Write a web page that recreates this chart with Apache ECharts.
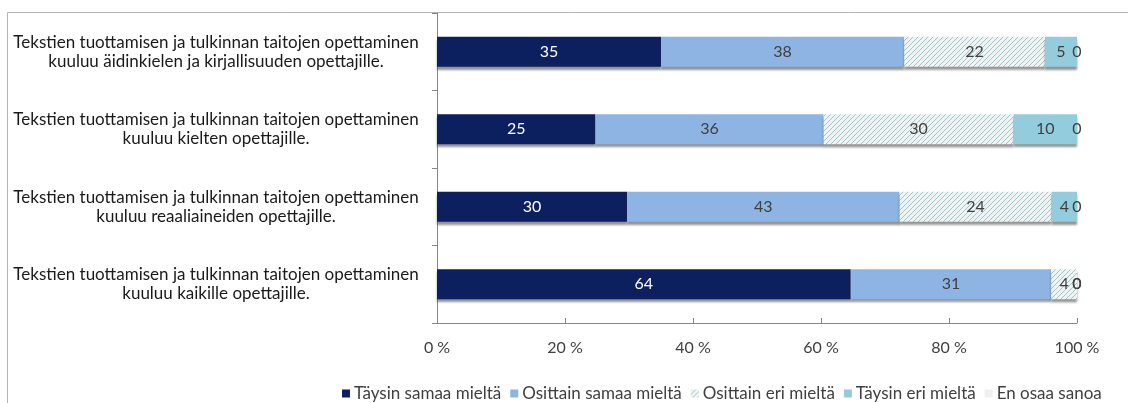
<!DOCTYPE html>
<html>
<head>
<meta charset="utf-8">
<script src="https://cdn.jsdelivr.net/npm/echarts@6/dist/echarts.min.js"></script>
<style>
  html, body { margin: 0; padding: 0; background: #ffffff; }
  #chart { width: 1128px; height: 403px; }
</style>
</head>
<body>
<div id="chart"></div>
<script>
// Statements, listed top to bottom
const categories = [
  'Tekstien tuottamisen ja tulkinnan taitojen opettaminen\nkuuluu äidinkielen ja kirjallisuuden opettajille.',
  'Tekstien tuottamisen ja tulkinnan taitojen opettaminen\nkuuluu kielten opettajille.',
  'Tekstien tuottamisen ja tulkinnan taitojen opettaminen\nkuuluu reaaliaineiden opettajille.',
  'Tekstien tuottamisen ja tulkinnan taitojen opettaminen\nkuuluu kaikille opettajille.'
];

// Answer shares (%) per statement
const taysinSamaa   = [35, 25, 30, 64];
const osittainSamaa = [38, 36, 43, 31];
const osittainEri   = [22, 30, 24, 4];
const taysinEri     = [5, 10, 4, 0];
const enOsaa        = [0, 0, 0, 0];

const seriesNames = ['Täysin samaa mieltä', 'Osittain samaa mieltä', 'Osittain eri mieltä', 'Täysin eri mieltä', 'En osaa sanoa'];
const xTickLabels = ['0 %', '20 %', '40 %', '60 %', '80 %', '100 %'];

const FONT = 'Lato, "Open Sans", sans-serif';

// diagonal hatch fill
function hatch() {
  const c = document.createElement('canvas');
  c.width = 5; c.height = 5;
  const g = c.getContext('2d');
  g.fillStyle = '#eef3f4';
  g.fillRect(0, 0, 5, 5);
  g.strokeStyle = '#a8c2ca';
  g.lineWidth = 1;
  g.beginPath();
  g.moveTo(-1, 6); g.lineTo(6, -1);
  g.moveTo(-1, 1); g.lineTo(1, -1);
  g.moveTo(4, 6); g.lineTo(6, 4);
  g.stroke();
  return c;
}

const rawSets = [taysinSamaa, osittainSamaa, osittainEri, taysinEri, enOsaa];
const rowTotals = categories.map((_, i) => rawSets.reduce((s, a) => s + a[i], 0));

const fills = ['#0c1f5f', '#8db4e2', { image: hatch(), repeat: 'repeat' }, '#93cddd', '#f0f0f0'];
const labelColors = ['#ffffff', '#404040', '#404040', '#404040', '#404040'];

const series = rawSets.map((arr, si) => ({
  name: seriesNames[si],
  type: 'bar',
  stack: 'all',
  barWidth: 30,
  // 100 % stacked: each segment is its share of the row total
  data: arr.map((v, i) => v / rowTotals[i] * 100),
  itemStyle: {
    color: fills[si],
    shadowColor: 'rgba(60,60,60,0.55)',
    shadowOffsetY: 3,
    shadowBlur: 2
  },
  label: {
    show: true,
    position: 'inside',
    color: labelColors[si],
    fontFamily: FONT,
    fontSize: 16,
    formatter: p => String(arr[p.dataIndex])
  },
  emphasis: { disabled: true }
}));

const chart = echarts.init(document.getElementById('chart'), null, { renderer: 'canvas' });
chart.setOption({
  animation: false,
  backgroundColor: '#ffffff',
  textStyle: { fontFamily: FONT },
  grid: { left: 437, right: 51, top: 13, bottom: 80 },
  xAxis: {
    type: 'value',
    min: 0, max: 100, interval: 20,
    axisLine: { show: true, lineStyle: { color: '#868686' } },
    axisTick: { show: true, inside: true, length: 5, lineStyle: { color: '#868686' } },
    splitLine: { show: false },
    axisLabel: {
      color: '#404040', fontSize: 16, margin: 17, fontFamily: FONT,
      formatter: v => xTickLabels[v / 20]
    }
  },
  yAxis: {
    type: 'category',
    inverse: true,
    data: categories,
    axisLine: { show: true, lineStyle: { color: '#868686' } },
    axisTick: { show: true, length: 5, lineStyle: { color: '#868686' } },
    axisLabel: {
      color: '#1a1a1a', fontSize: 17, fontFamily: FONT,
      align: 'center', margin: 221, lineHeight: 19
    }
  },
  legend: {
    data: seriesNames,
    left: 337, top: 380,
    itemWidth: 8, itemHeight: 8, itemGap: 9,
    icon: 'rect',
    textStyle: { color: '#404040', fontSize: 17, fontFamily: FONT, padding: [0, 0, 0, -1] }
  },
  graphic: [{
    type: 'rect',
    shape: { x: 7.5, y: 12.5, width: 1300, height: 600 },
    style: { fill: null, stroke: '#b4b4b4', lineWidth: 1 },
    silent: true, z: -1
  }],
  series
});
</script>
</body>
</html>
